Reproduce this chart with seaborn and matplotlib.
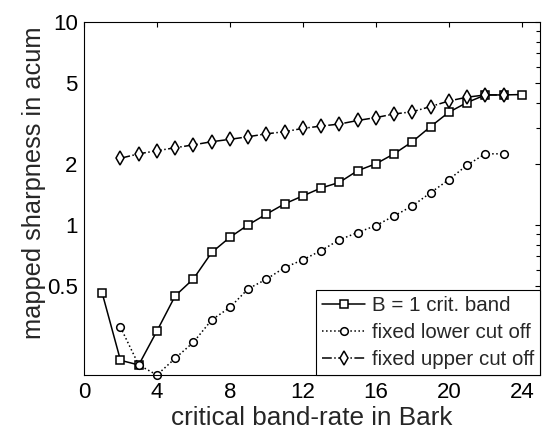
import numpy as np
import pandas as pd
import matplotlib
matplotlib.use("Agg")
import matplotlib.pyplot as plt
import seaborn as sns
from matplotlib.ticker import FixedLocator, FixedFormatter, NullFormatter

# critical band-rate (Bark)
bark_band = list(range(1, 25))
bark_lower = list(range(2, 24))
bark_upper = list(range(2, 24))

# mapped sharpness (acum) for a bandwidth of one critical band
sharp_band = [0.46, 0.215, 0.204, 0.30, 0.447, 0.542, 0.731, 0.869, 1.00, 1.13,
              1.27, 1.39, 1.52, 1.62, 1.85, 2.00, 2.24, 2.57, 3.05, 3.59,
              4.01, 4.37, 4.37, 4.39]
# fixed lower cut-off frequency
sharp_lower = [0.313, 0.204, 0.182, 0.220, 0.264, 0.340, 0.392, 0.484, 0.540, 0.616,
               0.673, 0.747, 0.844, 0.917, 0.992, 1.107, 1.24, 1.44, 1.67, 1.97,
               2.24, 2.24]
# fixed upper cut-off frequency
sharp_upper = [2.13, 2.24, 2.32, 2.40, 2.48, 2.57, 2.64, 2.72, 2.81, 2.88,
               2.99, 3.07, 3.14, 3.27, 3.38, 3.52, 3.61, 3.83, 4.08, 4.26,
               4.37, 4.37]

labels = ["B = 1 crit. band", "fixed lower cut off", "fixed upper cut off"]
yticks_major = [0.5, 1, 2, 5, 10]
ytick_labels = ["0.5", "1", "2", "5", "10"]
yticks_minor = [0.2, 0.3, 0.4, 0.6, 0.7, 0.8, 0.9, 3, 4, 6, 7, 8, 9]
xticks = [0, 4, 8, 12, 16, 20, 24]

sns.set_style("white")
plt.rcParams["font.family"] = ["Liberation Sans", "DejaVu Sans"]

fig = plt.figure(figsize=(5.42, 4.32), dpi=100)
ax = fig.add_axes([84 / 542, 1 - 375 / 432, 456 / 542, 353 / 432])

common = dict(color="black", markerfacecolor="white", markeredgecolor="black",
              markeredgewidth=1.1, linewidth=1.1, errorbar=None, ax=ax,
              legend=False, clip_on=False)

sns.lineplot(x=bark_band, y=sharp_band, marker="s", markersize=5.5,
             linestyle="-", label=labels[0], **common)
sns.lineplot(x=bark_lower, y=sharp_lower, marker="o", markersize=5.5,
             linestyle=":", label=labels[1], **common)
sns.lineplot(x=bark_upper, y=sharp_upper, marker="d", markersize=7.5,
             linestyle="-.", label=labels[2], **common)

ax.set_yscale("log")
ax.set_xlim(0, 25)
ax.set_ylim(0.182, 10)
ax.xaxis.set_major_locator(FixedLocator(xticks))
ax.yaxis.set_major_locator(FixedLocator(yticks_major))
ax.yaxis.set_major_formatter(FixedFormatter(ytick_labels))
ax.yaxis.set_minor_locator(FixedLocator(yticks_minor))
ax.yaxis.set_minor_formatter(NullFormatter())

for s in ax.spines.values():
    s.set_visible(True)
    s.set_color("black")
    s.set_linewidth(0.8)

ax.tick_params(axis="both", which="both", direction="in", top=True, right=True,
               color="black", width=0.8, labelcolor="black")
ax.tick_params(axis="both", which="major", length=3.5, labelsize=16)
ax.tick_params(axis="x", which="major", pad=5.0)
ax.tick_params(axis="y", which="major", pad=4.5)
ax.tick_params(axis="y", which="minor", length=3.0)

ax.set_xlabel("critical band-rate in Bark", fontsize=18.8, labelpad=2.5)
ax.set_ylabel("mapped sharpness in acum", fontsize=18.3)
ax.yaxis.set_label_coords(-0.084, 0.545)

handles = ax.get_lines()[:3]
leg = ax.legend(handles, labels, loc="lower right", fontsize=14.8,
                frameon=True, fancybox=False, shadow=False, framealpha=1,
                edgecolor="black", borderaxespad=0, borderpad=0.3,
                handlelength=2.1, handletextpad=0.3, labelspacing=0.38,
                numpoints=1)
leg.get_frame().set_linewidth(0.8)

fig.savefig("out.png", dpi=100, facecolor="white")
